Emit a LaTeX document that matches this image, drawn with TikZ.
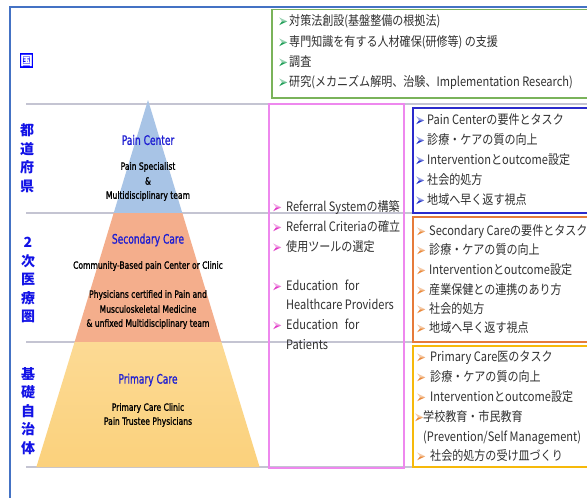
\documentclass[tikz,border=0pt]{standalone}
\usepackage{fontspec}
\setmainfont{Noto Sans CJK JP}[FakeStretch=0.85]
\newfontfamily\lblf{Noto Sans CJK JP}
\newfontfamily\pyr{DejaVu Sans}[FakeStretch=0.76,FakeBold=1.2]
\newfontfamily\pyrh{DejaVu Sans}[FakeStretch=0.7,FakeBold=1]
\definecolor{frameblue}{HTML}{4472C4}
\definecolor{sepgray}{HTML}{C4C4D2}
\definecolor{pcblue}{HTML}{A8C4E6}
\definecolor{scsalmon}{HTML}{F4AE8C}
\definecolor{pryellowtop}{HTML}{FCDA94}
\definecolor{pryellow}{HTML}{FBD17C}
\definecolor{headblue}{HTML}{1E1ED2}
\definecolor{lblblue}{HTML}{1212E6}
\definecolor{txtgray}{HTML}{303030}
\definecolor{gbox}{HTML}{7AB35A}
\definecolor{gbul}{HTML}{23A05A}
\definecolor{pbox}{HTML}{EE88EE}
\definecolor{pbul}{HTML}{E23CC8}
\definecolor{bbox}{HTML}{2B2BCC}
\definecolor{bbul}{HTML}{2436C8}
\definecolor{obox}{HTML}{E67B3A}
\definecolor{obul}{HTML}{EA8A3C}
\definecolor{ybox}{HTML}{F6B90A}
\newcommand\bul[1]{\tikz[baseline=0pt]{\fill[#1!45!white] (0pt,8.4pt) -- (8pt,4.5pt) -- (2.8pt,4.5pt) -- cycle; \fill[#1] (0pt,0.6pt) -- (8pt,4.5pt) -- (2.8pt,4.5pt) -- cycle;}}
\tikzset{
  item/.style={anchor=base west, inner sep=0pt, text=txtgray, font=\fontsize{13}{15}\selectfont},
  pyrhead/.style={inner sep=0pt, text=headblue, font=\pyrh\fontsize{13}{15}\selectfont},
  pyrtxt/.style={inner sep=0pt, text=black, font=\pyr\fontsize{10}{12}\selectfont},
  lbl/.style={inner sep=0pt, align=center, text=lblblue, font=\lblf\fontsize{14}{18.5}\selectfont\bfseries},
  sepline/.style={draw=sepgray, line width=1.5pt},
}
\begin{document}
\begin{tikzpicture}[x=1pt,y=-1pt]
\useasboundingbox (0,0) rectangle (587,498);
\clip (0,0) rectangle (587,498);
\fill[white] (0,0) rectangle (587,498);
% outer frame
\draw[frameblue, line width=2pt] (10,510) -- (10,7) -- (600,7);
% separator lines
\foreach \yy in {104,213,342,467} \draw[sepline] (26,\yy) -- (600,\yy);
% pyramid
\fill[pcblue] (148,100) -- (182.3,213) -- (113.7,213) -- cycle;
\fill[scsalmon] (113.7,213) -- (182.3,213) -- (221.4,342) -- (74.6,342) -- cycle;
\shade[top color=pryellowtop, bottom color=pryellow] (74.6,342) -- (221.4,342) -- (259.6,467) -- (36.4,467) -- cycle;
% pyramid texts
\node[pyrhead] (pch) at (148,140) {Pain Center};
\node[pyrtxt] (pc1) at (148,167) {Pain Specialist};
\node[pyrtxt] (pc2) at (148,181) {\&};
\node[pyrtxt] (pc3) at (148,196) {Multidisciplinary team};
\node[pyrhead] (sch) at (148,240) {Secondary Care};
\node[pyrtxt] (sc1) at (148,266) {Community-Based pain Center or Clinic};
\node[pyrtxt] (sc2) at (148,295) {Physicians certified in Pain and};
\node[pyrtxt] (sc3) at (148,309) {Musculoskeletal Medicine};
\node[pyrtxt] (sc4) at (148,324) {\& unfixed Multidisciplinary team};
\node[pyrhead] (prh) at (148,380) {Primary Care};
\node[pyrtxt] (pr1) at (148,408) {Primary Care Clinic};
\node[pyrtxt] (pr2) at (148,422) {Pain Trustee Physicians};
% left labels
\node[fill=blue, text=white, inner sep=0pt, minimum width=12pt, minimum height=15.5pt, font=\lblf\fontsize{12.5}{13}\selectfont\bfseries] (kuni) at (26.5,60.5) {国};
\node[lbl] (todo) at (27,158) {都\\道\\府\\県};
\node[lbl] (niji) at (28,280) {2\\次\\医\\療\\圏};
\node[lbl] (kiso) at (28,411) {基\\礎\\自\\治\\体};
% boxes
\draw[gbox, line width=1.5pt] (272,9.5) rectangle (600,98);
\draw[pbox, line width=2pt] (269,104) rectangle (404,467.5);
\draw[bbox, line width=1.5pt] (413,108) rectangle (600,213);
\draw[obox, line width=2pt] (413,217) rectangle (600,342);
\draw[ybox, line width=2pt] (413,346) rectangle (600,467);
% green box items
\node[item] (g1) at (279,25.8) {\bul{gbul}\hspace{2pt}対策法創設(基盤整備の根拠法)};
\node[item] (g2) at (279,46.8) {\bul{gbul}\hspace{2pt}専門知識を有する人材確保(研修等) の支援};
\node[item] (g3) at (279,66.8) {\bul{gbul}\hspace{2pt}調査};
\node[item] (g4) at (279,86.8) {\bul{gbul}\hspace{2pt}研究(メカニズム解明、治験、Implementation Research)};
% pink box items
\node[item] (p1) at (273,211.8) {\bul{pbul}\hspace{5pt}Referral Systemの構築};
\node[item] (p2) at (273,231.8) {\bul{pbul}\hspace{5pt}Referral Criteriaの確立};
\node[item] (p3) at (273,251.8) {\bul{pbul}\hspace{5pt}使用ツールの選定};
\node[item] (p4) at (273,290.8) {\bul{pbul}\hspace{5pt}Education\enspace for};
\node[item] (p5) at (286,309.8) {Healthcare Providers};
\node[item] (p6) at (273,329.8) {\bul{pbul}\hspace{5pt}Education\enspace for};
\node[item] (p7) at (286,349.8) {Patients};
% blue box items
\node[item] (b1) at (416,124.8) {\bul{bbul}\hspace{3pt}Pain Centerの要件とタスク};
\node[item] (b2) at (416,144.8) {\bul{bbul}\hspace{3pt}診療・ケアの質の向上};
\node[item] (b3) at (416,164.8) {\bul{bbul}\hspace{3pt}Interventionとoutcome設定};
\node[item] (b4) at (416,184.8) {\bul{bbul}\hspace{3pt}社会的処方};
\node[item] (b5) at (416,204.8) {\bul{bbul}\hspace{3pt}地域へ早く返す視点};
% orange box items
\node[item] (o1) at (417,235.8) {\bul{obul}\hspace{4pt}Secondary Careの要件とタスク};
\node[item] (o2) at (417,254.8) {\bul{obul}\hspace{4pt}診療・ケアの質の向上};
\node[item] (o3) at (417,274.8) {\bul{obul}\hspace{4pt}Interventionとoutcome設定};
\node[item] (o4) at (417,294.8) {\bul{obul}\hspace{4pt}産業保健との連携のあり方};
\node[item] (o5) at (417,313.8) {\bul{obul}\hspace{4pt}社会的処方};
\node[item] (o6) at (417,332.8) {\bul{obul}\hspace{4pt}地域へ早く返す視点};
% yellow box items
\node[item] (y1) at (417,361.8) {\bul{obul}\hspace{5pt}Primary Care医のタスク};
\node[item] (y2) at (417,381.8) {\bul{obul}\hspace{5pt}診療・ケアの質の向上};
\node[item] (y3) at (417,401.8) {\bul{obul}\hspace{5pt}Interventionとoutcome設定};
\node[item] (y4) at (415,421.8) {\bul{obul}学校教育・市民教育};
\node[item] (y5) at (423,441.8) {(Prevention/Self Management)};
\node[item] (y6) at (417,460.8) {\bul{obul}\hspace{5pt}社会的処方の受け皿づくり};
\end{tikzpicture}
\end{document}
